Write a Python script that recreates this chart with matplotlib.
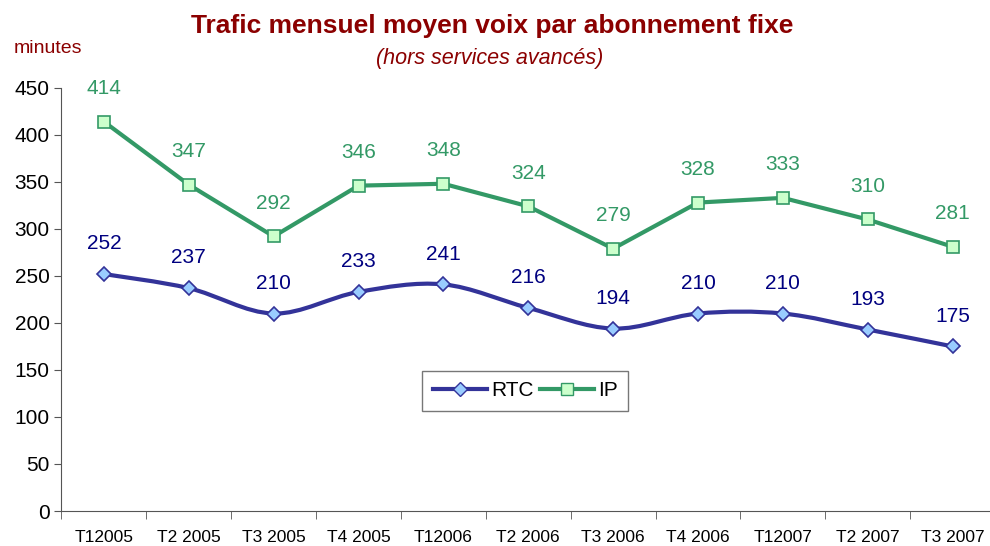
import numpy as np
import matplotlib.pyplot as plt
from matplotlib.path import Path
from matplotlib.patches import PathPatch
from matplotlib.lines import Line2D

plt.rcParams['font.family'] = ['Liberation Sans', 'DejaVu Sans']

quarters = ["T12005", "T2 2005", "T3 2005", "T4 2005", "T12006", "T2 2006",
            "T3 2006", "T4 2006", "T12007", "T2 2007", "T3 2007"]
rtc = [252, 237, 210, 233, 241, 216, 194, 210, 210, 193, 175]
ip = [414, 347, 292, 346, 348, 324, 279, 328, 333, 310, 281]

blue = "#333399"
green = "#339966"
red = "#8B0000"


def smooth_path(xs, ys, t=1 / 6):
    # Excel-like smoothed line: cubic bezier through the points
    verts = [(xs[0], ys[0])]
    codes = [Path.MOVETO]
    n = len(xs)
    for i in range(n - 1):
        p0 = (xs[max(i - 1, 0)], ys[max(i - 1, 0)])
        p1 = (xs[i], ys[i])
        p2 = (xs[i + 1], ys[i + 1])
        p3 = (xs[min(i + 2, n - 1)], ys[min(i + 2, n - 1)])
        c1 = (p1[0] + (p2[0] - p0[0]) * t, p1[1] + (p2[1] - p0[1]) * t)
        c2 = (p2[0] - (p3[0] - p1[0]) * t, p2[1] - (p3[1] - p1[1]) * t)
        verts += [c1, c2, p2]
        codes += [Path.CURVE4] * 3
    return Path(verts, codes)


x = np.arange(len(quarters))

fig = plt.figure(figsize=(9.9, 5.46), dpi=100)
ax = fig.add_axes([0.0621, 0.0641, 0.943, 0.775])

ax.add_patch(PathPatch(smooth_path(x, rtc), facecolor="none", edgecolor=blue, lw=3, zorder=2))
ax.plot(x, rtc, linestyle="none", marker="D", markersize=7, markerfacecolor="#99CCFF",
        markeredgecolor=blue, markeredgewidth=1.2, zorder=3)
ax.plot(x, ip, color=green, lw=3, marker="s", markersize=8, markerfacecolor="#CCFFCC",
        markeredgecolor=green, markeredgewidth=1.2, zorder=3)

for xi, v in zip(x, rtc):
    ax.annotate(str(v), (xi, v), xytext=(0, 15), textcoords="offset points",
                ha="center", va="bottom", color="#000080", fontsize=15)
for xi, v in zip(x, ip):
    ax.annotate(str(v), (xi, v), xytext=(0, 17), textcoords="offset points",
                ha="center", va="bottom", color=green, fontsize=15)

ax.set_xlim(-0.5, len(quarters) - 0.5)
ax.set_ylim(0, 450)
ax.set_yticks(range(0, 451, 50))
ax.tick_params(axis="y", labelsize=15, direction="out", length=5, color="#555555")
ax.set_xticks(x)
ax.set_xticklabels(quarters, fontsize=12.5)
ax.tick_params(axis="x", which="major", length=0, pad=14)
ax.set_xticks(np.arange(-0.5, len(quarters), 1), minor=True)
ax.tick_params(axis="x", which="minor", direction="out", length=6, color="#555555")
for s in ["top", "right"]:
    ax.spines[s].set_visible(False)
ax.spines["left"].set_color("#555555")
ax.spines["bottom"].set_color("#555555")

handles = [
    Line2D([], [], color=blue, lw=3, marker="D", markersize=7, markerfacecolor="#99CCFF",
           markeredgecolor=blue),
    Line2D([], [], color=green, lw=3, marker="s", markersize=8, markerfacecolor="#CCFFCC",
           markeredgecolor=green),
]
leg = ax.legend(handles, ["RTC", "IP"], loc="center", bbox_to_anchor=(0.497, 0.284), ncol=2,
                fontsize=15, fancybox=False, edgecolor="#555555", handlelength=2.6,
                columnspacing=0.3, handletextpad=0.2, borderpad=0.5, borderaxespad=0)
leg.get_frame().set_linewidth(1)

fig.text(0.497, 0.953, "Trafic mensuel moyen voix par abonnement fixe", ha="center",
         va="center", color=red, fontsize=19, fontweight="bold")
fig.text(0.495, 0.893, "(hors services avancés)", ha="center", va="center", color=red,
         fontsize=15.5, style="italic")
fig.text(0.048, 0.912, "minutes", ha="center", va="center", color=red, fontsize=14)

fig.savefig("out.png", dpi=100)
